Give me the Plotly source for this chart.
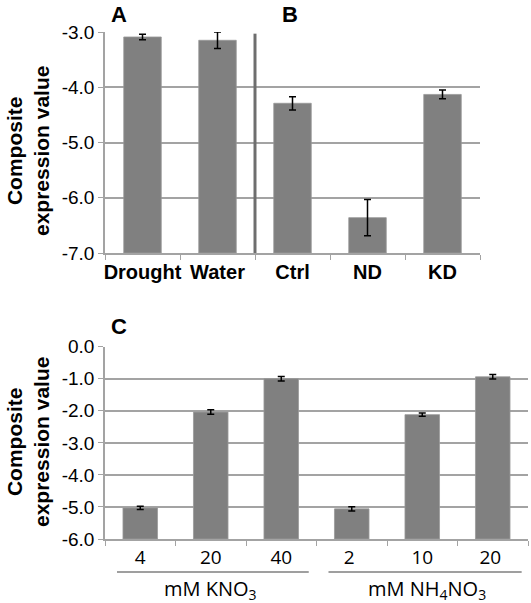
import plotly.graph_objects as go

# ---- data ----
cats_top = ["Drought", "Water", "Ctrl", "ND", "KD"]
vals_top = [-3.09, -3.15, -4.29, -6.36, -4.13]
err_top = [0.05, 0.15, 0.12, 0.33, 0.08]

cats_bot = ["4", "20", "40", "2 ", "10", "20 "]
vals_bot = [-5.03, -2.04, -1.00, -5.06, -2.12, -0.94]
err_bot = [0.05, 0.07, 0.07, 0.07, 0.05, 0.07]

top_ticks = [-3.0, -4.0, -5.0, -6.0, -7.0]
top_ticktext = ["-3.0", "-4.0", "-5.0", "-6.0", "-7.0"]
bot_ticks = [0.0, -1.0, -2.0, -3.0, -4.0, -5.0, -6.0]
bot_ticktext = ["0.0", "-1.0", "-2.0", "-3.0", "-4.0", "-5.0", "-6.0"]
top_base = -7.0
bot_base = -6.0
groups = ["mM KNO<sub>3</sub>", "mM NH<sub>4</sub>NO<sub>3</sub>"]

W, H = 531, 603
def px(p):
    return p / W
def py(p):
    return 1 - p / H

BAR = "#808080"
GRID = "#a3a3a3"
SANS = "Liberation Sans, Arial, sans-serif"
CAL = "Open Sans, Carlito, sans-serif"

fig = go.Figure()
fig.add_trace(go.Bar(
    x=cats_top, y=[v - top_base for v in vals_top], base=top_base,
    marker=dict(color=BAR, line=dict(color="#999999", width=0.8)),
    width=0.5,
    error_y=dict(type="data", array=err_top, color="black", thickness=1.5, width=3.5),
    xaxis="x", yaxis="y", showlegend=False))
fig.add_trace(go.Bar(
    x=cats_bot, y=[v - bot_base for v in vals_bot], base=bot_base,
    marker=dict(color=BAR, line=dict(color="#999999", width=0.8)),
    width=0.49,
    error_y=dict(type="data", array=err_bot, color="black", thickness=1.5, width=3.5),
    xaxis="x2", yaxis="y2", showlegend=False))

axcommon = dict(showline=True, linecolor=GRID, linewidth=1.5, ticks="outside",
                tickcolor=GRID, ticklen=5, tickwidth=1.2, automargin=False)

fig.update_layout(
    width=W, height=H, margin=dict(l=0, r=0, t=0, b=0, autoexpand=False),
    paper_bgcolor="white", plot_bgcolor="white", bargap=0.5,
    xaxis=dict(domain=[px(105), px(480)], anchor="y", type="category",
               tickson="boundaries", showgrid=False, tickangle=0,
               tickfont=dict(family=SANS, size=20, color="black", weight="bold"),
               **axcommon),
    yaxis=dict(domain=[py(253), py(32)], anchor="x", range=[top_base, -3.0],
               tickvals=top_ticks, ticktext=top_ticktext, showgrid=True, gridcolor=GRID,
               gridwidth=1.5, zeroline=False,
               tickfont=dict(family=SANS, size=19, color="black"),
               **axcommon),
    xaxis2=dict(domain=[px(105), px(528)], anchor="y2", type="category",
                tickson="boundaries", showgrid=False, tickangle=0,
                tickfont=dict(family=CAL, size=19, color="black"),
                **axcommon),
    yaxis2=dict(domain=[py(539), py(346.7)], anchor="x2", range=[bot_base, 0.0],
                tickvals=bot_ticks, ticktext=bot_ticktext, showgrid=True, gridcolor=GRID,
                gridwidth=1.5, zeroline=False,
                tickfont=dict(family=SANS, size=19, color="black"),
                **axcommon),
)

# separator between panel A and B
fig.add_shape(type="line", xref="x", yref="y", x0=1.5, x1=1.5, y0=top_base, y1=-3.03,
              line=dict(color="#6e6e6e", width=3))

# group underlines
for x0, x1 in [(-0.33, 2.39), (2.67, 5.41)]:
    fig.add_shape(type="line", xref="x2", yref="paper", x0=x0, x1=x1,
                  y0=py(572), y1=py(572), line=dict(color="#7f7f7f", width=1.5))

for xc, txt in zip([1.0, 4.07], groups):
    fig.add_annotation(x=xc, xref="x2", y=py(589), yref="paper", text=txt,
                       xanchor="center", yanchor="middle",
                       showarrow=False, font=dict(family=CAL, size=20, color="black"))

# panel letters
for xp, yp, t in [(119, 15, "A"), (290, 15, "B"), (119, 326, "C")]:
    fig.add_annotation(x=px(xp), y=py(yp), xref="paper", yref="paper", text=t,
                       xanchor="center", yanchor="middle",
                       showarrow=False, font=dict(family=SANS, size=22, color="black",
                                                  weight="bold"))

# y titles
for yp in [151, 442]:
    fig.add_annotation(x=px(28), y=py(yp), xref="paper", yref="paper",
                       text="Composite<br>expression value", textangle=-90,
                       xanchor="center", yanchor="middle", align="center",
                       showarrow=False,
                       font=dict(family=SANS, size=21, color="black", weight="bold"))

fig.write_html("out.html", config={"displayModeBar": False},
               post_script="document.body.style.margin='0';document.body.style.padding='0';")
